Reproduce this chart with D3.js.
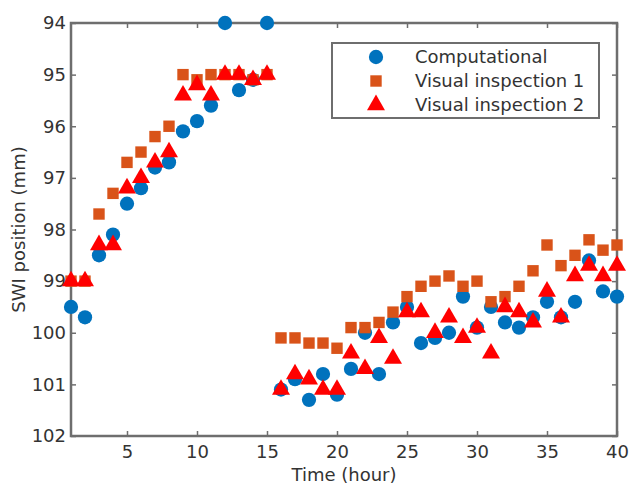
<!DOCTYPE html>
<html>
<head>
<meta charset="utf-8">
<script src="https://cdn.jsdelivr.net/npm/d3@7"></script>
<style>
  body { margin: 0; background: #fff; }
  text { font-family: "DejaVu Sans", sans-serif; fill: #333; }
</style>
</head>
<body>
<script>
const hours = d3.range(1, 41);

const computational = [99.5, 99.7, 98.5, 98.1, 97.5, 97.2, 96.8, 96.7, 96.1, 95.9,
    95.6, 94.0, 95.3, 95.1, 94.0, 101.1, 100.9, 101.3, 100.8, 101.2,
    100.7, 100.0, 100.8, 99.8, 99.5, 100.2, 100.1, 100.0, 99.3, 99.9,
    99.5, 99.8, 99.9, 99.7, 99.4, 99.7, 99.4, 98.6, 99.2, 99.3];

const visual1 = [99.0, 99.0, 97.7, 97.3, 96.7, 96.5, 96.2, 96.0, 95.0, 95.1,
    95.0, 95.0, 95.0, 95.1, 95.0, 100.1, 100.1, 100.2, 100.2, 100.3,
    99.9, 99.9, 99.8, 99.6, 99.3, 99.1, 99.0, 98.9, 99.1, 99.0,
    99.4, 99.3, 99.1, 98.8, 98.3, 98.7, 98.5, 98.2, 98.4, 98.3];

const visual2 = [99.0, 99.0, 98.3, 98.3, 97.2, 97.0, 96.7, 96.5, 95.4, 95.2,
    95.4, 95.0, 95.0, 95.1, 95.0, 101.1, 100.8, 100.9, 101.1, 101.1,
    100.4, 100.7, 100.1, 100.5, 99.6, 99.6, 100.0, 99.7, 100.1, 99.9,
    100.4, 99.5, 99.6, 99.8, 99.2, 99.7, 98.9, 98.7, 98.9, 98.7];

const xTicks = [5, 10, 15, 20, 25, 30, 35, 40];
const yTicks = [94, 95, 96, 97, 98, 99, 100, 101, 102];

const seriesNames = ['Computational', 'Visual inspection 1', 'Visual inspection 2'];

const margin = { top: 23, right: 13, bottom: 50, left: 71 };
const width = 630 - margin.left - margin.right;
const height = 486 - margin.top - margin.bottom;

const svg = d3.select('body').append('svg')
    .attr('width', 630)
    .attr('height', 486);

const g = svg.append('g')
    .attr('transform', `translate(${margin.left}, ${margin.top})`);

const x = d3.scaleLinear().domain([1, 40]).range([0, width]);
const y = d3.scaleLinear().domain([94, 102]).range([0, height]);

const axisColor = '#6e6e6e';

// axes, ticks pointing inward
const styleAxis = sel => {
    sel.select('.domain').remove();
    sel.selectAll('.tick line').attr('stroke', axisColor).attr('stroke-width', 1.5);
    sel.selectAll('.tick text').style('font-size', '18px').attr('fill', '#333');
};

g.append('g')
    .attr('transform', `translate(0, ${height})`)
    .call(d3.axisBottom(x).tickValues(xTicks).tickSizeInner(-5).tickPadding(9))
    .call(styleAxis);

g.append('g')
    .call(d3.axisTop(x).tickValues(xTicks).tickSizeInner(-5).tickFormat(''))
    .call(styleAxis);

g.append('g')
    .call(d3.axisLeft(y).tickValues(yTicks).tickSizeInner(-5).tickPadding(5))
    .call(styleAxis);

g.append('g')
    .attr('transform', `translate(${width}, 0)`)
    .call(d3.axisRight(y).tickValues(yTicks).tickSizeInner(-5).tickFormat(''))
    .call(styleAxis);

g.append('rect')
    .attr('width', width)
    .attr('height', height)
    .attr('fill', 'none')
    .attr('stroke', axisColor)
    .attr('stroke-width', 2.5);

// markers
const symCircle = d3.symbol().type(d3.symbolCircle).size(160);
const symSquare = d3.symbol().type(d3.symbolSquare).size(130);
const symTriangle = d3.symbol().type(d3.symbolTriangle).size(140);

const series = [
    { name: seriesNames[0], values: computational, color: '#0072BD', sym: symCircle },
    { name: seriesNames[1], values: visual1, color: '#D95319', sym: symSquare },
    { name: seriesNames[2], values: visual2, color: '#FF0000', sym: symTriangle }
];

series.forEach(s => {
    g.append('g').selectAll('path')
        .data(hours.map((h, i) => ({ h: h, v: s.values[i] })))
        .enter()
        .append('path')
        .attr('d', s.sym)
        .attr('transform', d => `translate(${x(d.h)}, ${y(d.v)})`)
        .attr('fill', s.color);
});

// axis labels
svg.append('text')
    .attr('x', margin.left + width / 2)
    .attr('y', 481)
    .attr('text-anchor', 'middle')
    .style('font-size', '18px')
    .text('Time (hour)');

svg.append('text')
    .attr('transform', `translate(25, ${margin.top + height / 2}) rotate(-90)`)
    .attr('text-anchor', 'middle')
    .style('font-size', '18px')
    .text('SWI position (mm)');

// legend
const legend = svg.append('g').attr('transform', 'translate(332, 43)');
legend.append('rect')
    .attr('width', 267)
    .attr('height', 75)
    .attr('fill', '#fff')
    .attr('stroke', axisColor)
    .attr('stroke-width', 2);

series.forEach((s, i) => {
    legend.append('path')
        .attr('d', s.sym)
        .attr('transform', `translate(44, ${14 + i * 24})`)
        .attr('fill', s.color);
    legend.append('text')
        .attr('x', 83)
        .attr('y', 14 + i * 24)
        .attr('dy', '0.35em')
        .style('font-size', '18px')
        .text(s.name);
});
</script>
</body>
</html>
